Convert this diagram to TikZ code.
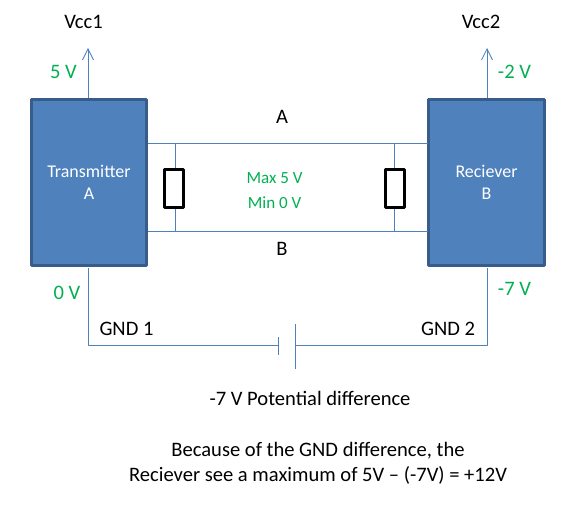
\documentclass[tikz,border=0pt]{standalone}
\usepackage{fontspec}
\usetikzlibrary{arrows.meta}
\setmainfont{Carlito}
\definecolor{boxfill}{RGB}{79,129,189}
\definecolor{boxedge}{RGB}{56,93,138}
\definecolor{voltgreen}{RGB}{0,176,80}
\begin{document}
\begin{tikzpicture}[x=0.02cm, y=-0.02cm, line join=round, >={Straight Barb[length=2.2mm,width=2.2mm]}]
	\tikzset{every node/.style={font=\fontsize{11.7pt}{14.2pt}\selectfont, inner sep=0pt, align=center}}
	\tikzset{block/.style={draw=boxedge, line width=1.5pt, fill=boxfill, text=white, font=\fontsize{10.2pt}{12.5pt}\selectfont, minimum width=2.31cm, minimum height=3.33cm}}
	\tikzset{wire/.style={draw=boxfill, line width=0.5pt}}
	\tikzset{load/.style={draw=black, line width=1.5pt, fill=white, minimum width=0.39cm, minimum height=0.77cm}}
	\tikzset{volt/.style={text=voltgreen}}
	\useasboundingbox (0,0) rectangle (574,519);
	\node[block] (TX) at (89,182.5) {Transmitter\\A};
	\node[block] (RX) at (486.5,182.5) {Reciever\\B};
	\coordinate (Vcc1) at (88,48);
	\coordinate (Vcc2) at (487,48);
	\coordinate (TXa) at (148,143);
	\coordinate (TXb) at (148,231);
	\coordinate (RXa) at (428,143);
	\coordinate (RXb) at (428,231);
	\coordinate (R1a) at (175,143);
	\coordinate (R1b) at (175,231);
	\coordinate (R2a) at (394,143);
	\coordinate (R2b) at (394,231);
	\coordinate (G1) at (88,268);
	\coordinate (G2) at (487,268);
	\coordinate (C1) at (88,345.5);
	\coordinate (C2) at (487,345.5);
	\coordinate (P1) at (278,345.5);
	\coordinate (P2) at (295.5,345.5);
	\node[load] (R1) at (174,188.5) {};
	\node[load] (R2) at (395,188.5) {};
	\draw[wire] (TXa)--(RXa) (TXb)--(RXb);
	\draw[wire] (R1a)--(R1a|-R1.north) (R1b|-R1.south)--(R1b) (R2a)--(R2a|-R2.north) (R2b|-R2.south)--(R2b);
	\draw[wire, ->] (G1|-TX.north)--(Vcc1);
	\draw[wire, ->] (G2|-RX.north)--(Vcc2);
	\draw[wire] (G1)--(C1)--(P1) (P2)--(C2)--(G2);
	\draw[wire] (278,337)--(278,355) (295.5,324)--(295.5,369);
	\node (vcc1) at (83.5,22) {Vcc1};
	\node (vcc2) at (481,22) {Vcc2};
	\node[volt] (v5) at (63.5,72) {5 V};
	\node[volt] (v2) at (514.5,72) {-2 V};
	\node[volt] (v0) at (67,293) {0 V};
	\node[volt] (v7) at (514.5,289) {-7 V};
	\node[volt, font=\fontsize{9.7pt}{14.2pt}\selectfont] (lim) at (274.5,190.5) {Max 5 V\\Min 0 V};
	\node (A) at (282,117) {A};
	\node (B) at (282,249) {B};
	\node (gnd1) at (126.5,329) {GND 1};
	\node (gnd2) at (448,329) {GND 2};
	\node (pot) at (310,398) {-7 V Potential difference};
	\node (note) at (318,463.5) {Because of the GND difference, the\\Reciever see a maximum of 5V -- (-7V) = +12V};
\end{tikzpicture}
\end{document}
